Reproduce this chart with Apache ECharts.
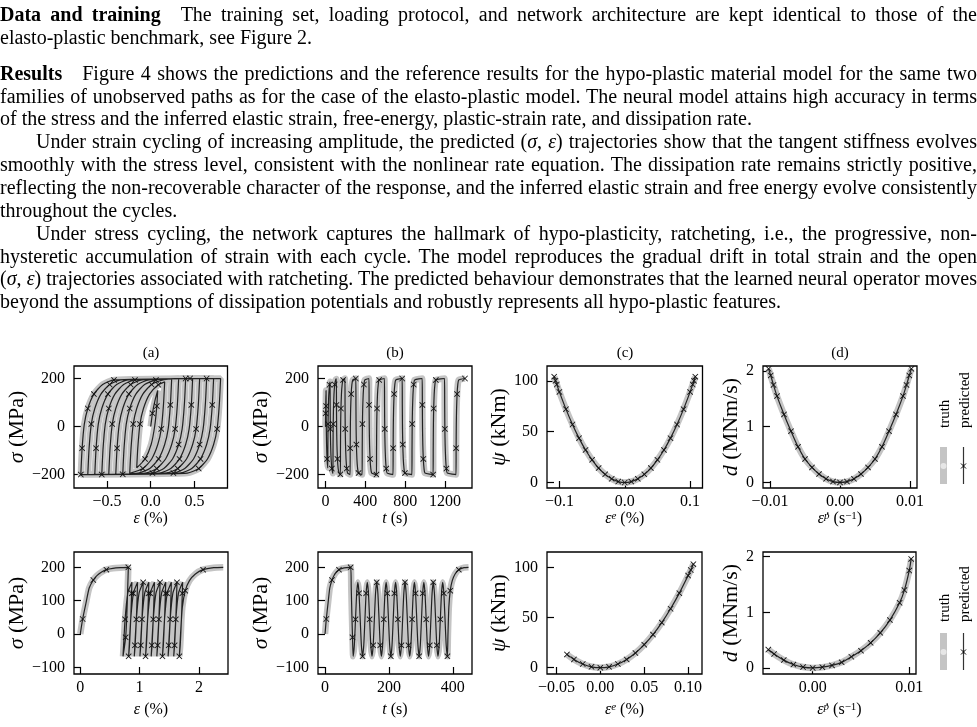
<!DOCTYPE html>
<html>
<head>
<meta charset="utf-8">
<script src="https://cdn.jsdelivr.net/npm/echarts@6/dist/echarts.min.js"></script>
<style>
  html, body { margin: 0; padding: 0; background: #fff; }
  #page { position: relative; width: 977px; height: 727px; overflow: hidden; }
  #chart { position: absolute; left: 0; top: 0; width: 977px; height: 727px; }
  .line { position: absolute; white-space: nowrap; font-family: 'Liberation Serif', serif; font-size: 20px; line-height: 23px; color: #000; }
</style>
</head>
<body>
<div id="page">
  <div id="chart"></div>
  <div id="text"></div>
</div>
<script>
// ---------- data: strain cycling of increasing amplitude (top row) ----------
const cyc1T = [0,
  1.4, 3.6, 5.7,
  6.4, 8.2, 11.1, 16.1, 23.0,
  23.9, 25.7, 28.5, 33.6, 40.7, 46.0,
  47.0, 48.8, 51.7, 56.7, 63.9, 74.7,
  75.8, 77.6, 80.4, 85.5, 92.7, 102.0, 109.2,
  110.3, 112.1, 114.9, 120.0, 127.2, 136.5, 149.4,
  150.5, 152.3, 155.1, 160.2, 167.4, 176.7, 195.3,
  196.4, 198.2, 201.0, 206.1, 213.3, 222.6, 247.0,
  248.1, 249.9, 252.7, 257.8, 265.0, 274.3, 304.5,
  305.6, 307.4, 310.2, 315.3, 322.5, 331.8, 367.7,
  368.8, 370.6, 373.4, 378.5, 385.7, 395.0, 436.6,
  437.7, 439.5, 442.3, 447.4, 454.6, 463.9, 511.3,
  512.4, 514.2, 517.0, 522.1, 529.3, 538.6, 591.6,
  592.7, 594.5, 597.3, 602.4, 609.6, 618.9, 677.8,
  678.9, 680.7, 683.5, 688.6, 695.8, 705.1, 769.7,
  770.8, 772.6, 775.4, 780.5, 787.7, 797.0, 867.3,
  868.4, 870.2, 873.0, 878.1, 885.3, 894.6, 970.7,
  971.8, 973.6, 976.4, 981.5, 988.7, 998.0, 1079.9,
  1081.0, 1082.8, 1085.6, 1090.7, 1097.9, 1107.2, 1194.8,
  1195.9, 1197.7, 1200.5, 1205.6, 1212.8, 1222.1, 1309.6,
  1310.7, 1312.5, 1315.3, 1320.4, 1327.6, 1336.9, 1399.4]
const cyc1Eps = [0,
  0.02, 0.05, 0.08,
  0.07, 0.045, 0.005, -0.065, -0.16,
  -0.148, -0.123, -0.083, -0.013, 0.087, 0.16,
  0.146, 0.121, 0.081, 0.011, -0.089, -0.24,
  -0.225, -0.2, -0.16, -0.09, 0.01, 0.14, 0.24,
  0.225, 0.2, 0.16, 0.09, -0.01, -0.14, -0.32,
  -0.305, -0.28, -0.24, -0.17, -0.07, 0.06, 0.32,
  0.305, 0.28, 0.24, 0.17, 0.07, -0.06, -0.40,
  -0.385, -0.36, -0.32, -0.25, -0.15, -0.02, 0.40,
  0.385, 0.36, 0.32, 0.25, 0.15, 0.02, -0.48,
  -0.465, -0.44, -0.40, -0.33, -0.23, -0.10, 0.48,
  0.465, 0.44, 0.40, 0.33, 0.23, 0.10, -0.56,
  -0.545, -0.52, -0.48, -0.41, -0.31, -0.18, 0.56,
  0.545, 0.52, 0.48, 0.41, 0.31, 0.18, -0.64,
  -0.625, -0.60, -0.56, -0.49, -0.39, -0.26, 0.64,
  0.625, 0.60, 0.56, 0.49, 0.39, 0.26, -0.72,
  -0.705, -0.68, -0.64, -0.57, -0.47, -0.34, 0.72,
  0.705, 0.68, 0.64, 0.57, 0.47, 0.34, -0.80,
  -0.785, -0.76, -0.72, -0.65, -0.55, -0.42, 0.80,
  0.785, 0.76, 0.72, 0.65, 0.55, 0.42, -0.80,
  -0.785, -0.76, -0.72, -0.65, -0.55, -0.42, 0.45]
const cyc1Sig = [0,
  55, 110, 150,
  85, 0, -75, -135, -172,
  -90, 10, 75, 135, 174, 186,
  90, -10, -75, -135, -175, -195,
  -90, 10, 75, 135, 175, 194, 198,
  90, -10, -75, -135, -175, -194, -199,
  -90, 10, 75, 135, 175, 194, 200,
  90, -10, -75, -135, -175, -194, -200,
  -90, 10, 75, 135, 175, 194, 200,
  90, -10, -75, -135, -175, -194, -200,
  -90, 10, 75, 135, 175, 194, 200,
  90, -10, -75, -135, -175, -194, -200,
  -90, 10, 75, 135, 175, 194, 200,
  90, -10, -75, -135, -175, -194, -200,
  -90, 10, 75, 135, 175, 194, 200,
  90, -10, -75, -135, -175, -194, -200,
  -90, 10, 75, 135, 175, 194, 200,
  90, -10, -75, -135, -175, -194, -200,
  -90, 10, 75, 135, 175, 194, 200,
  90, -10, -75, -135, -175, -194, -200,
  -90, 10, 75, 135, 175, 194, 200]

// ---------- data: stress cycling / ratcheting (bottom row) ----------
const cyc2T = [0, 4.0, 9.5, 14.9, 21.8, 27.7, 35.6, 43.6, 54.5, 67.3, 80.2,
  82.0, 84.0, 86.0, 88.0,
  91.7, 95.4, 99.1, 102.8, 106.4, 110.1, 113.8, 117.5,
  121.2, 124.9, 128.6, 132.3, 135.9, 139.6, 143.3, 147.0,
  150.7, 154.4, 158.1, 161.8, 165.4, 169.1, 172.8, 176.5,
  180.2, 183.9, 187.6, 191.3, 194.9, 198.6, 202.3, 206.0,
  209.7, 213.4, 217.1, 220.8, 224.4, 228.1, 231.8, 235.5,
  239.2, 242.9, 246.6, 250.3, 253.9, 257.6, 261.3, 265.0,
  268.7, 272.4, 276.1, 279.8, 283.4, 287.1, 290.8, 294.5,
  298.2, 301.9, 305.6, 309.3, 312.9, 316.6, 320.3, 324.0,
  327.7, 331.4, 335.1, 338.8, 342.4, 346.1, 349.8, 353.5,
  357.2, 360.9, 364.6, 368.3, 371.9, 375.6, 379.3, 383.0,
  384.8, 387.5, 391.9, 398.2, 407.1, 418.7, 434.8, 449.1]
const cyc2Eps = [0, 0.04, 0.096, 0.15, 0.22, 0.28, 0.36, 0.44, 0.55, 0.68, 0.81,
  0.80, 0.785, 0.765, 0.72,
  0.73, 0.755, 0.80, 0.87, 0.865, 0.85, 0.83, 0.815,
  0.825, 0.85, 0.895, 0.965, 0.96, 0.945, 0.925, 0.91,
  0.92, 0.945, 0.99, 1.06, 1.055, 1.04, 1.02, 1.005,
  1.015, 1.04, 1.085, 1.155, 1.15, 1.135, 1.115, 1.10,
  1.11, 1.135, 1.18, 1.25, 1.245, 1.23, 1.21, 1.195,
  1.205, 1.23, 1.275, 1.345, 1.34, 1.325, 1.305, 1.29,
  1.30, 1.325, 1.37, 1.44, 1.435, 1.42, 1.40, 1.385,
  1.395, 1.42, 1.465, 1.535, 1.53, 1.515, 1.495, 1.48,
  1.49, 1.515, 1.56, 1.63, 1.625, 1.61, 1.59, 1.575,
  1.585, 1.61, 1.655, 1.725, 1.72, 1.705, 1.685, 1.67,
  1.69, 1.72, 1.77, 1.84, 1.94, 2.07, 2.25, 2.41]
const cyc2Sig = [0, 45, 93, 138, 162, 175, 186, 193, 197, 199, 200,
  140, 60, -10, -67,
  -34, 44, 122, 155, 122, 44, -34, -67,
  -34, 44, 122, 155, 122, 44, -34, -67,
  -34, 44, 122, 155, 122, 44, -34, -67,
  -34, 44, 122, 155, 122, 44, -34, -67,
  -34, 44, 122, 155, 122, 44, -34, -67,
  -34, 44, 122, 155, 122, 44, -34, -67,
  -34, 44, 122, 155, 122, 44, -34, -67,
  -34, 44, 122, 155, 122, 44, -34, -67,
  -34, 44, 122, 155, 122, 44, -34, -67,
  -34, 44, 122, 155, 122, 44, -34, -67,
  0, 80, 130, 160, 180, 193, 199, 200]

// ---------- data: free energy vs elastic strain ----------
const psi1Eps = [-0.108, -0.106, -0.104, -0.1, -0.09, -0.08, -0.07, -0.06, -0.05, -0.04, -0.03, -0.02, -0.01, 0,
  0.01, 0.02, 0.03, 0.04, 0.05, 0.06, 0.07, 0.08, 0.09, 0.1, 0.104, 0.106, 0.108]
const psi1Val = [104, 100, 96.3, 89, 72.1, 57, 43.6, 32, 22.3, 14.2, 8, 3.6, 0.9, 0,
  0.9, 3.6, 8, 14.2, 22.3, 32, 43.6, 57, 72.1, 89, 96.3, 100, 104]
const psi2Eps = [-0.038, -0.03, -0.02, -0.01, 0, 0.01, 0.02, 0.03, 0.04, 0.05, 0.06, 0.07, 0.08, 0.09, 0.1, 0.103, 0.106]
const psi2Val = [13.3, 8.3, 3.7, 0.9, 0, 0.9, 3.7, 8.3, 14.7, 23, 33.1, 45.1, 58.9, 74.5, 92, 97.6, 103.4]

// ---------- data: dissipation rate vs plastic strain rate ----------
const diss1Rate = [-0.0102, -0.0099, -0.0095, -0.009, -0.008, -0.007, -0.006, -0.005, -0.004, -0.003, -0.002, -0.001, 0,
  0.001, 0.002, 0.003, 0.004, 0.005, 0.006, 0.007, 0.008, 0.009, 0.0095, 0.0099, 0.0102]
const diss1Val = [2.04, 1.92, 1.75, 1.55, 1.22, 0.92, 0.64, 0.42, 0.27, 0.15, 0.065, 0.015, 0,
  0.015, 0.065, 0.15, 0.27, 0.42, 0.64, 0.92, 1.22, 1.55, 1.75, 1.92, 2.04]
const diss2Rate = [-0.0046, -0.004, -0.003, -0.002, -0.001, 0, 0.001, 0.002, 0.003, 0.004, 0.005, 0.006, 0.007, 0.008, 0.009, 0.0095, 0.01, 0.0102]
const diss2Val = [0.33, 0.25, 0.14, 0.06, 0.015, 0, 0.012, 0.045, 0.1, 0.2, 0.31, 0.45, 0.63, 0.86, 1.17, 1.4, 1.75, 1.96]

// ---------- tick values and labels ----------
const epsTicks = [-0.5, 0, 0.5], epsLabels = ['\u22120.5', '0.0', '0.5']
const sigTicks = [-200, 0, 200], sigLabels = ['\u2212200', '0', '200']
const timeTicks = [0, 400, 800, 1200], timeLabels = ['0', '400', '800', '1200']
const eeTicks = [-0.1, 0, 0.1], eeLabels = ['\u22120.1', '0.0', '0.1']
const psiTicks = [0, 50, 100], psiLabels = ['0', '50', '100']
const rateTicks = [-0.01, 0, 0.01], rateLabels = ['\u22120.01', '0.00', '0.01']
const dTicks = [0, 1, 2], dLabels = ['0', '1', '2']
const eps2Ticks = [0, 1, 2], eps2Labels = ['0', '1', '2']
const sig2Ticks = [-100, 0, 100, 200], sig2Labels = ['\u2212100', '0', '100', '200']
const time2Ticks = [0, 200, 400], time2Labels = ['0', '200', '400']
const ee2Ticks = [-0.05, 0, 0.05, 0.1], ee2Labels = ['\u22120.05', '0.00', '0.05', '0.10']
const rate2Ticks = [0, 0.01], rate2Labels = ['0.00', '0.01']

// ---------- text of the page ----------
const textLines = [
  { y: 14, x: 0, j: true, h: '<b>Data and training</b>&emsp;The training set, loading protocol, and network architecture are kept identical to those of the' },
  { y: 37.5, x: 0, j: false, h: 'elasto-plastic benchmark, see Figure 2.' },
  { y: 73, x: 0, j: true, h: '<b>Results</b>&emsp;Figure 4 shows the predictions and the reference results for the hypo-plastic material model for the same two' },
  { y: 96, x: 0, j: true, h: 'families of unobserved paths as for the case of the elasto-plastic model. The neural model attains high accuracy in terms' },
  { y: 118.5, x: 0, j: false, h: 'of the stress and the inferred elastic strain, free-energy, plastic-strain rate, and dissipation rate.' },
  { y: 141, x: 36, j: true, h: 'Under strain cycling of increasing amplitude, the predicted (<i>σ</i>, <i>ε</i>) trajectories show that the tangent stiffness evolves' },
  { y: 164, x: 0, j: true, h: 'smoothly with the stress level, consistent with the nonlinear rate equation. The dissipation rate remains strictly positive,' },
  { y: 187, x: 0, j: true, h: 'reflecting the non-recoverable character of the response, and the inferred elastic strain and free energy evolve consistently' },
  { y: 210, x: 0, j: false, h: 'throughout the cycles.' },
  { y: 233, x: 36, j: true, h: 'Under stress cycling, the network captures the hallmark of hypo-plasticity, ratcheting, i.e., the progressive, non-' },
  { y: 256, x: 0, j: true, h: 'hysteretic accumulation of strain with each cycle. The model reproduces the gradual drift in total strain and the open' },
  { y: 278.5, x: 0, j: true, h: '(<i>σ</i>, <i>ε</i>) trajectories associated with ratcheting. The predicted behaviour demonstrates that the learned neural operator moves' },
  { y: 301.5, x: 0, j: false, h: 'beyond the assumptions of dissipation potentials and robustly represents all hypo-plastic features.' }
]

const FONT = 'Liberation Serif'
const CROSS = 'path://M0,1L1,0L5,4L9,0L10,1L6,5L10,9L9,10L5,6L1,10L0,9L4,5Z'

// 1. 排版正文 (每行两端对齐)
const drawText = () => {
  const box = document.getElementById('text')
  textLines.forEach((l) => {
    const div = document.createElement('div')
    div.className = 'line'
    div.style.left = l.x + 'px'
    div.style.top = (l.y - 11.5) + 'px'
    const span = document.createElement('span')
    span.innerHTML = l.h
    div.appendChild(span)
    box.appendChild(div)
    if (l.j) {
      const w = span.getBoundingClientRect().width
      const n = (span.textContent.match(/ /g) || []).length
      span.style.wordSpacing = ((977 - l.x - w) / n) + 'px'
    }
  })
}

const label = (ticks, labels) => (v) => {
  const i = ticks.findIndex((t) => Math.abs(t - v) < 1e-9)
  return i < 0 ? '' : labels[i]
}

// every 'step'-th point of the predicted series carries a cross
const markedPairs = (xs, ys, step) => xs.map((x, i) => (
  i % step === 1 % step ? [x, ys[i]] : { value: [x, ys[i]], symbol: 'none' }
))

const richStyle = (size) => ({
  i: { fontFamily: FONT, fontSize: size, fontStyle: 'italic', color: '#000' },
  s: { fontFamily: FONT, fontSize: Math.round(size * 0.7), fontStyle: 'italic', color: '#000', verticalAlign: 'top' },
  u: { fontFamily: FONT, fontSize: Math.round(size * 0.7), color: '#000', verticalAlign: 'top' }
})

// panel layout: grid box, axis ranges, ticks, names
const panels = [
  { box: [74, 366, 153.5, 122], xr: [-0.878, 0.879], yr: [-256, 252], xt: epsTicks, xl: epsLabels, yt: sigTicks, yl: sigLabels,
    xn: '{i|ε} (%)', yn: '{i|σ} (MPa)', xg: 22, yg: 39, x: cyc1Eps, y: cyc1Sig, smooth: 0.2, step: 3 },
  { box: [318, 366, 154, 122], xr: [-75, 1470], yr: [-256, 252], xt: timeTicks, xl: timeLabels, yt: sigTicks, yl: sigLabels,
    xn: '{i|t} (s)', yn: '{i|σ} (MPa)', xg: 22, yg: 41, x: cyc1T, y: cyc1Sig, smooth: 0.2, step: 3 },
  { box: [547, 366, 155.5, 122], xr: [-0.119, 0.119], yr: [-5.4, 114.5], xt: eeTicks, xl: eeLabels, yt: psiTicks, yl: psiLabels,
    xn: '{i|ε}{s|e} (%)', yn: '{i|ψ} (kNm)', xg: 22, yg: 30, x: psi1Eps, y: psi1Val, smooth: 0.3, step: 1 },
  { box: [763, 366, 154, 122], xr: [-0.011, 0.011], yr: [-0.1, 2.09], xt: rateTicks, xl: rateLabels, yt: dTicks, yl: dLabels,
    xn: '{i|ε̇}{s|p} (s{u|−1})', yn: '{i|d} (MNm/s)', xg: 22, yg: 20, x: diss1Rate, y: diss1Val, smooth: 0.3, step: 1 },
  { box: [74, 552, 154, 122], xr: [-0.106, 2.49], yr: [-120, 246], xt: eps2Ticks, xl: eps2Labels, yt: sig2Ticks, yl: sig2Labels,
    xn: '{i|ε} (%)', yn: '{i|σ} (MPa)', xg: 28, yg: 44, x: cyc2Eps, y: cyc2Sig, smooth: 0.2, step: 3 },
  { box: [318, 552, 154, 122], xr: [-22, 460], yr: [-120, 246], xt: time2Ticks, xl: time2Labels, yt: sig2Ticks, yl: sig2Labels,
    xn: '{i|t} (s)', yn: '{i|σ} (MPa)', xg: 28, yg: 46, x: cyc2T, y: cyc2Sig, smooth: 0.2, step: 3 },
  { box: [547, 552, 155, 122], xr: [-0.0607, 0.1158], yr: [-6.3, 115.6], xt: ee2Ticks, xl: ee2Labels, yt: psiTicks, yl: psiLabels,
    xn: '{i|ε}{s|e} (%)', yn: '{i|ψ} (kNm)', xg: 28, yg: 29, x: psi2Eps, y: psi2Val, smooth: 0.3, step: 1 },
  { box: [763, 552, 153, 122], xr: [-0.00515, 0.0107], yr: [-0.11, 2.085], xt: rate2Ticks, xl: rate2Labels, yt: dTicks, yl: dLabels,
    xn: '{i|ε̇}{s|p} (s{u|−1})', yn: '{i|d} (MNm/s)', xg: 28, yg: 21, x: diss2Rate, y: diss2Val, smooth: 0.3, step: 1 }
]

const axisOf = (i, range, ticks, labels, name, gap, isY) => {
  const size = isY ? 22 : 16
  return {
    type: 'value', gridIndex: i, min: range[0], max: range[1],
    axisLine: { show: false, onZero: false },
    axisTick: { show: true, inside: true, length: 7, customValues: ticks, lineStyle: { color: '#000', width: 1.2 } },
    axisLabel: { customValues: ticks, formatter: label(ticks, labels), fontFamily: FONT, fontSize: 16, color: '#000', margin: isY ? 9 : 6 },
    splitLine: { show: false },
    name: name, nameLocation: 'middle', nameGap: gap,
    nameTextStyle: { fontFamily: FONT, fontSize: size, color: '#000', rich: richStyle(size) }
  }
}

const legendAt = (textBottom, glyphTop) => [
  { type: 'text', x: 945, y: textBottom, rotation: Math.PI / 2,
    style: { text: 'truth', fontFamily: FONT, fontSize: 15, fill: '#000', textAlign: 'left', textVerticalAlign: 'middle' } },
  { type: 'text', x: 965, y: textBottom, rotation: Math.PI / 2,
    style: { text: 'predicted', fontFamily: FONT, fontSize: 15, fill: '#000', textAlign: 'left', textVerticalAlign: 'middle' } },
  { type: 'rect', shape: { x: 940, y: glyphTop, width: 7, height: 37 }, style: { fill: '#c4c4c4' } },
  { type: 'circle', shape: { cx: 943.5, cy: glyphTop + 19, r: 3 }, style: { fill: '#e6e6e6' } },
  { type: 'line', shape: { x1: 963.5, y1: glyphTop, x2: 963.5, y2: glyphTop + 37 }, style: { stroke: '#333', lineWidth: 1.2 } },
  { type: 'line', shape: { x1: 961, y1: glyphTop + 16.5, x2: 966, y2: glyphTop + 21.5 }, style: { stroke: '#000', lineWidth: 1 } },
  { type: 'line', shape: { x1: 966, y1: glyphTop + 16.5, x2: 961, y2: glyphTop + 21.5 }, style: { stroke: '#000', lineWidth: 1 } }
]

// 2. 初始化图表
const initChart = () => {
  const chart = echarts.init(document.getElementById('chart'), null, { renderer: 'canvas' })
  const grid = [], xAxis = [], yAxis = [], series = []
  panels.forEach((p, i) => {
    grid.push({ left: p.box[0], top: p.box[1], width: p.box[2], height: p.box[3], show: true,
      borderColor: '#000', borderWidth: 1.3, backgroundColor: 'transparent', containLabel: false })
    xAxis.push(axisOf(i, p.xr, p.xt, p.xl, p.xn, p.xg, false))
    yAxis.push(axisOf(i, p.yr, p.yt, p.yl, p.yn, p.yg, true))
    // truth: thick grey band
    series.push({ type: 'line', xAxisIndex: i, yAxisIndex: i, data: p.x.map((x, k) => [x, p.y[k]]), smooth: p.smooth,
      symbol: 'none', lineStyle: { color: '#c4c4c4', width: 6.5 }, silent: true, z: 2 })
    // predicted: thin black line with crosses
    series.push({ type: 'line', xAxisIndex: i, yAxisIndex: i, data: markedPairs(p.x, p.y, p.step), smooth: p.smooth,
      symbol: CROSS, symbolSize: 6, showAllSymbol: true, itemStyle: { color: '#111' },
      lineStyle: { color: '#222', width: 1.2 }, silent: true, z: 3 })
  })
  const titles = [['(a)', 151], ['(b)', 395], ['(c)', 625], ['(d)', 840]].map(([t, x]) => ({
    type: 'text', x: x, y: 353, style: { text: t, fontFamily: FONT, fontSize: 15, fill: '#000', textAlign: 'center', textVerticalAlign: 'middle' }
  }))
  chart.setOption({
    animation: false,
    backgroundColor: '#fff',
    grid, xAxis, yAxis, series,
    graphic: titles.concat(legendAt(428, 447), legendAt(622, 633))
  })
}

initChart()
drawText()
</script>
</body>
</html>
